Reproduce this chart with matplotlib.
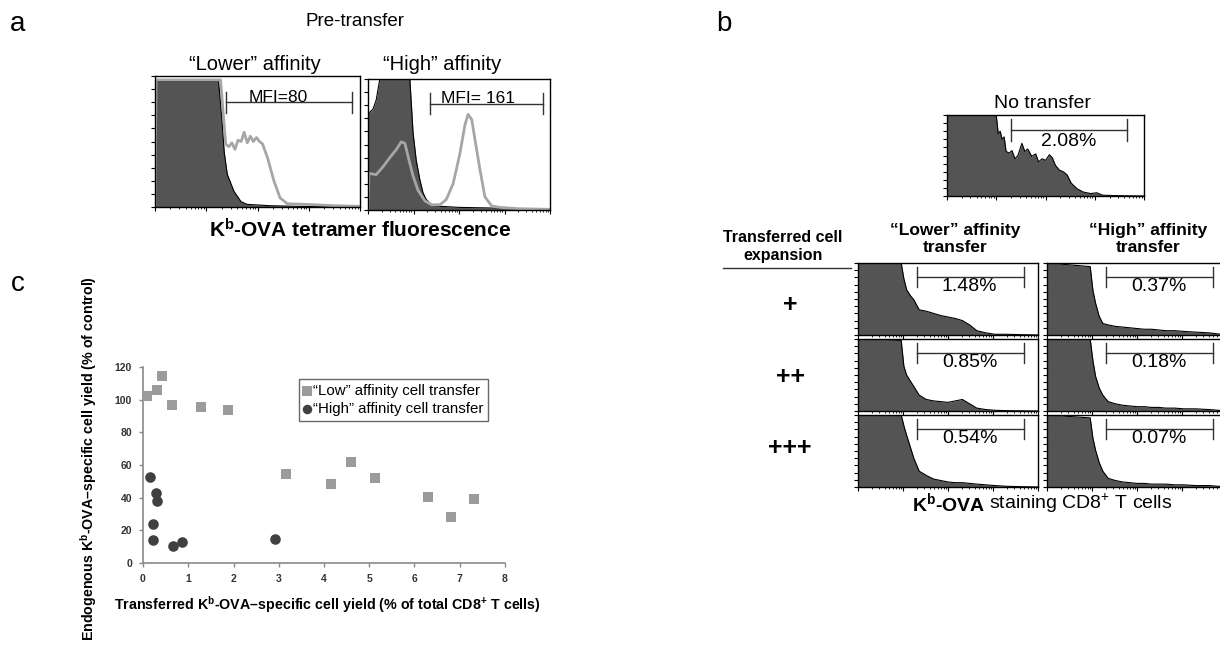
import numpy as np
import matplotlib
matplotlib.use("Agg")
import matplotlib.pyplot as plt
from matplotlib.ticker import LogLocator, NullFormatter, FixedLocator

plt.rcParams['font.family'] = ['Liberation Sans', 'DejaVu Sans']
plt.rcParams['mathtext.fontset'] = 'custom'
plt.rcParams['mathtext.rm'] = 'Liberation Sans'
plt.rcParams['mathtext.bf'] = 'Liberation Sans:bold'
plt.rcParams['mathtext.it'] = 'Liberation Sans:italic'

W, H = 1220, 645
DARK = '#545454'
LIGHT = '#a6a6a6'

# ---- panel a: pre-transfer histograms (x in log10 decades, y = relative height)
lower_fill_x = [0, 0.02, 1.24, 1.30, 1.35, 1.41, 1.54, 1.68, 1.80, 2.24, 2.80, 4.0]
lower_fill_y = [0, 0.96, 0.96, 0.70, 0.42, 0.25, 0.12, 0.04, 0.02, 0.01, 0.005, 0.0]
lower_line_x = [0, 0.02, 1.28, 1.33, 1.38, 1.44, 1.50, 1.56, 1.62, 1.68, 1.74, 1.80,
                1.86, 1.92, 1.98, 2.04, 2.10, 2.20, 2.32, 2.44, 2.58, 2.96, 3.5, 4.0]
lower_line_y = [0, 0.97, 0.97, 0.72, 0.48, 0.46, 0.49, 0.44, 0.51, 0.50, 0.57, 0.49,
                0.54, 0.50, 0.53, 0.50, 0.48, 0.37, 0.20, 0.07, 0.025, 0.02, 0.01, 0.005]

high_fill_x = [0, 0.02, 0.11, 0.18, 0.26, 0.92, 0.99, 1.06, 1.14, 1.21, 1.28, 1.40, 1.50, 2.0, 2.76, 4.0]
high_fill_y = [0, 0.74, 0.77, 0.84, 1.0, 1.0, 0.59, 0.38, 0.23, 0.13, 0.08, 0.04, 0.03, 0.02, 0.015, 0.0]
high_line_x = [0, 0.02, 0.18, 0.33, 0.48, 0.62, 0.73, 0.81, 0.88, 0.99, 1.10, 1.25, 1.40, 1.58,
               1.72, 1.87, 2.02, 2.13, 2.20, 2.28, 2.35, 2.46, 2.57, 2.72, 2.90, 3.3, 4.0]
high_line_y = [0, 0.28, 0.27, 0.33, 0.40, 0.46, 0.52, 0.51, 0.41, 0.26, 0.15, 0.07, 0.04, 0.04,
               0.08, 0.20, 0.43, 0.65, 0.73, 0.69, 0.54, 0.31, 0.10, 0.03, 0.02, 0.01, 0.005]
mfi_labels = ['MFI=80', 'MFI= 161']

# ---- panel b: endogenous Kb-OVA staining
none_x = [0, 0.02, 1.00, 1.04, 1.08, 1.12, 1.16, 1.20, 1.26, 1.32, 1.38, 1.44, 1.52, 1.58, 1.64,
          1.72, 1.80, 1.86, 1.93, 2.00, 2.08, 2.14, 2.20, 2.28, 2.36, 2.44, 2.52, 2.64, 2.76,
          2.92, 3.04, 3.16, 3.40, 4.00]
none_y = [0, 1.0, 1.0, 0.77, 0.80, 0.70, 0.73, 0.55, 0.53, 0.56, 0.46, 0.50, 0.65, 0.55, 0.58,
          0.49, 0.52, 0.42, 0.46, 0.44, 0.51, 0.47, 0.38, 0.32, 0.30, 0.26, 0.16, 0.09, 0.05,
          0.03, 0.04, 0.01, 0.005, 0]
none_pct = '2.08%'

grid_x = [0, 0.02, 0.96, 1.02, 1.08, 1.16, 1.24, 1.36, 1.52, 1.68, 1.84, 2.00, 2.16, 2.32,
          2.48, 2.64, 2.84, 3.04, 3.30, 3.60, 4.00]
grid_y = {
    ('+', 'lower'): [0, 1, 1, 0.78, 0.63, 0.55, 0.49, 0.35, 0.33, 0.30, 0.27, 0.25, 0.23, 0.20,
                     0.14, 0.06, 0.03, 0.01, 0.01, 0.005, 0],
    ('+', 'high'): [0, 1, 0.95, 0.62, 0.44, 0.26, 0.16, 0.14, 0.12, 0.11, 0.10, 0.09, 0.08, 0.08,
                    0.07, 0.06, 0.06, 0.05, 0.04, 0.03, 0],
    ('++', 'lower'): [0, 1, 0.98, 0.62, 0.50, 0.42, 0.34, 0.22, 0.16, 0.14, 0.13, 0.12, 0.14, 0.16,
                      0.10, 0.04, 0.02, 0.01, 0.005, 0.003, 0],
    ('++', 'high'): [0, 1, 1, 0.70, 0.48, 0.32, 0.22, 0.13, 0.10, 0.08, 0.07, 0.06, 0.06, 0.05,
                     0.05, 0.04, 0.04, 0.03, 0.03, 0.02, 0],
    ('+++', 'lower'): [0, 1, 1, 0.85, 0.72, 0.56, 0.40, 0.22, 0.16, 0.11, 0.09, 0.07, 0.06, 0.06,
                       0.05, 0.04, 0.03, 0.02, 0.01, 0.005, 0],
    ('+++', 'high'): [0, 1, 0.96, 0.68, 0.51, 0.34, 0.22, 0.12, 0.09, 0.07, 0.06, 0.05, 0.05, 0.04,
                      0.04, 0.04, 0.03, 0.03, 0.02, 0.02, 0],
}
grid_pct = {
    ('+', 'lower'): '1.48%', ('+', 'high'): '0.37%',
    ('++', 'lower'): '0.85%', ('++', 'high'): '0.18%',
    ('+++', 'lower'): '0.54%', ('+++', 'high'): '0.07%',
}
expansions = ['+', '++', '+++']
transfers = ['lower', 'high']

# ---- panel c: scatter
low_x = [0.08, 0.30, 0.43, 0.65, 1.29, 1.87, 3.15, 4.15, 4.60, 5.12, 6.29, 6.81, 7.31]
low_y = [102, 106, 114.5, 97, 95.5, 93.5, 54.5, 48.4, 62, 52, 40.6, 28, 39.2]
high_x = [0.16, 0.28, 0.32, 0.21, 0.21, 0.66, 0.86, 2.91]
high_y = [52.5, 43, 38, 23.7, 14, 10.6, 13, 15]


def rect(x0, y0, x1, y1):
    """pixel box -> figure fraction"""
    return [x0 / W, 1 - y1 / H, (x1 - x0) / W, (y1 - y0) / H]


def hist_axes(fig, box, fx, fy, lx=None, ly=None):
    ax = fig.add_axes(rect(*box))
    xs = 10 ** np.asarray(fx)
    ax.fill_between(xs, fy, color=DARK, lw=0)
    ax.plot(xs, fy, color='black', lw=0.8)
    if lx is not None:
        ax.plot(10 ** np.asarray(lx), ly, color=LIGHT, lw=2)
    ax.set_xscale('log')
    ax.set_xlim(1, 1e4)
    ax.set_ylim(0, 1.0)
    ax.xaxis.set_major_locator(LogLocator(base=10, numticks=6))
    ax.xaxis.set_minor_locator(LogLocator(base=10, subs=np.arange(2, 10), numticks=12))
    ax.xaxis.set_major_formatter(NullFormatter())
    ax.xaxis.set_minor_formatter(NullFormatter())
    ax.yaxis.set_major_locator(FixedLocator(np.linspace(0, 1, 11)))
    ax.set_yticklabels([])
    ax.tick_params(axis='both', which='major', direction='out', length=3, width=0.8)
    ax.tick_params(axis='both', which='minor', direction='out', length=1.5, width=0.6)
    for s in ax.spines.values():
        s.set_linewidth(1.0)
    return ax


def gate(ax, x0, x1, y, dy):
    ax.plot([10 ** x0, 10 ** x1], [y, y], color='#333333', lw=1.0)
    for x in (x0, x1):
        ax.plot([10 ** x, 10 ** x], [y - dy, y + dy], color='#333333', lw=1.0)


fig = plt.figure(figsize=(W / 100, H / 100), dpi=100)

# panel letters
fig.text(18 / W, 1 - 24 / H, 'a', fontsize=20, ha='center', va='center')
fig.text(724 / W, 1 - 24 / H, 'b', fontsize=20, ha='center', va='center')
fig.text(18 / W, 1 - 284 / H, 'c', fontsize=20, ha='center', va='center')

# ---- panel a
fig.text(355 / W, 1 - 22 / H, 'Pre-transfer', fontsize=13.5, ha='center', va='center')
fig.text(255 / W, 1 - 64 / H, '\u201cLower\u201d affinity', fontsize=14.5, ha='center', va='center')
fig.text(442 / W, 1 - 65 / H, '\u201cHigh\u201d affinity', fontsize=14.5, ha='center', va='center')

ax = hist_axes(fig, (155, 76, 360, 207), lower_fill_x, lower_fill_y, lower_line_x, lower_line_y)
gate(ax, 1.39, 3.84, 0.80, 0.08)
ax.text(10 ** 2.4, 0.805, mfi_labels[0], fontsize=12.5, ha='center', va='baseline')

ax = hist_axes(fig, (368, 79, 550, 210), high_fill_x, high_fill_y, high_line_x, high_line_y)
gate(ax, 1.36, 3.84, 0.81, 0.08)
ax.text(10 ** 2.42, 0.815, mfi_labels[1], fontsize=12.5, ha='center', va='baseline')

fig.text(360 / W, 1 - 230 / H, r'K$^{\mathbf{b}}$-OVA tetramer fluorescence', fontsize=15,
         fontweight='bold', ha='center', va='center')

# ---- panel b
fig.text(1042 / W, 1 - 104 / H, 'No transfer', fontsize=14, ha='center', va='center')
ax = hist_axes(fig, (947, 115, 1144, 196), none_x, none_y)
gate(ax, 1.30, 3.66, 0.815, 0.14)
ax.text(10 ** 2.48, 0.67, none_pct, fontsize=14, ha='center', va='center')

fig.text(783 / W, 1 - 247 / H, 'Transferred cell\nexpansion', fontsize=11.5, fontweight='bold',
         ha='center', va='center', linespacing=1.25)
fig.add_artist(plt.Line2D([723 / W, 851 / W], [1 - 268 / H, 1 - 268 / H], color='#333333', lw=1.0))
fig.text(955 / W, 1 - 239 / H, '\u201cLower\u201d affinity\ntransfer', fontsize=12.5,
         fontweight='bold', ha='center', va='center', linespacing=1.2)
fig.text(1148 / W, 1 - 239 / H, '\u201cHigh\u201d affinity\ntransfer', fontsize=12.5,
         fontweight='bold', ha='center', va='center', linespacing=1.2)

col_x = {'lower': (858, 1038), 'high': (1047, 1227)}
row_y = {'+': (263, 335), '++': (339, 411), '+++': (415, 487)}
row_label_y = {'+': 305, '++': 377, '+++': 448}
for e in expansions:
    fig.text(790 / W, 1 - row_label_y[e] / H, e, fontsize=18, fontweight='bold',
             ha='center', va='center')
    for t in transfers:
        x0, x1 = col_x[t]
        y0, y1 = row_y[e]
        ax = hist_axes(fig, (x0, y0, x1, y1), grid_x, grid_y[(e, t)])
        gate(ax, 1.32, 3.68, 0.81, 0.14)
        ax.text(10 ** 2.48, 0.67, grid_pct[(e, t)], fontsize=14, ha='center', va='center')

fig.text(985 / W, 1 - 503 / H, r'K$^{\mathbf{b}}$-OVA', fontsize=14, fontweight='bold',
         ha='right', va='center')
fig.text(989 / W, 1 - 503 / H, r'staining CD8$^{+}$ T cells', fontsize=14, ha='left', va='center')

# ---- panel c
axc = fig.add_axes(rect(143, 367, 505, 563))
axc.scatter(low_x, low_y, marker='s', s=62, color='#9b9b9b', lw=0, zorder=3,
            label='\u201cLow\u201d affinity cell transfer')
axc.scatter(high_x, high_y, marker='o', s=58, color='#404040', lw=0, zorder=3,
            label='\u201cHigh\u201d affinity cell transfer')
axc.set_xlim(0, 8)
axc.set_ylim(0, 120)
axc.set_xticks(range(0, 9))
axc.set_yticks(range(0, 121, 20))
for s in ('top', 'right'):
    axc.spines[s].set_visible(False)
for s in ('left', 'bottom'):
    axc.spines[s].set_color('#8a8a8a')
    axc.spines[s].set_linewidth(1.2)
axc.tick_params(direction='out', length=3, width=1, color='#8a8a8a', labelsize=7.5, pad=5)
for lab in axc.get_xticklabels() + axc.get_yticklabels():
    lab.set_fontweight('bold')
    lab.set_color('#333333')

leg = axc.legend(loc='upper left', bbox_to_anchor=(299 / W, 1 - 379 / H),
                 bbox_transform=fig.transFigure, fontsize=10.8, frameon=True, fancybox=False,
                 handlelength=0.5, handletextpad=0.15, borderpad=0.3, labelspacing=0.3,
                 borderaxespad=0, markerscale=0.9)
leg.get_frame().set_edgecolor('#444444')
leg.get_frame().set_linewidth(1.0)

fig.text(327 / W, 1 - 605 / H,
         r'Transferred K$^{\mathbf{b}}$-OVA' + '\u2013' + r'specific cell yield (% of total CD8$^{\mathbf{+}}$ T cells)',
         fontsize=10.3, fontweight='bold', ha='center', va='center')
fig.text(89 / W, 1 - 459 / H,
         r'Endogenous K$^{\mathbf{b}}$-OVA' + '\u2013' + 'specific cell yield (% of control)',
         fontsize=10.3, fontweight='bold', ha='center', va='center', rotation=90)

fig.savefig('out.png', dpi=100)
